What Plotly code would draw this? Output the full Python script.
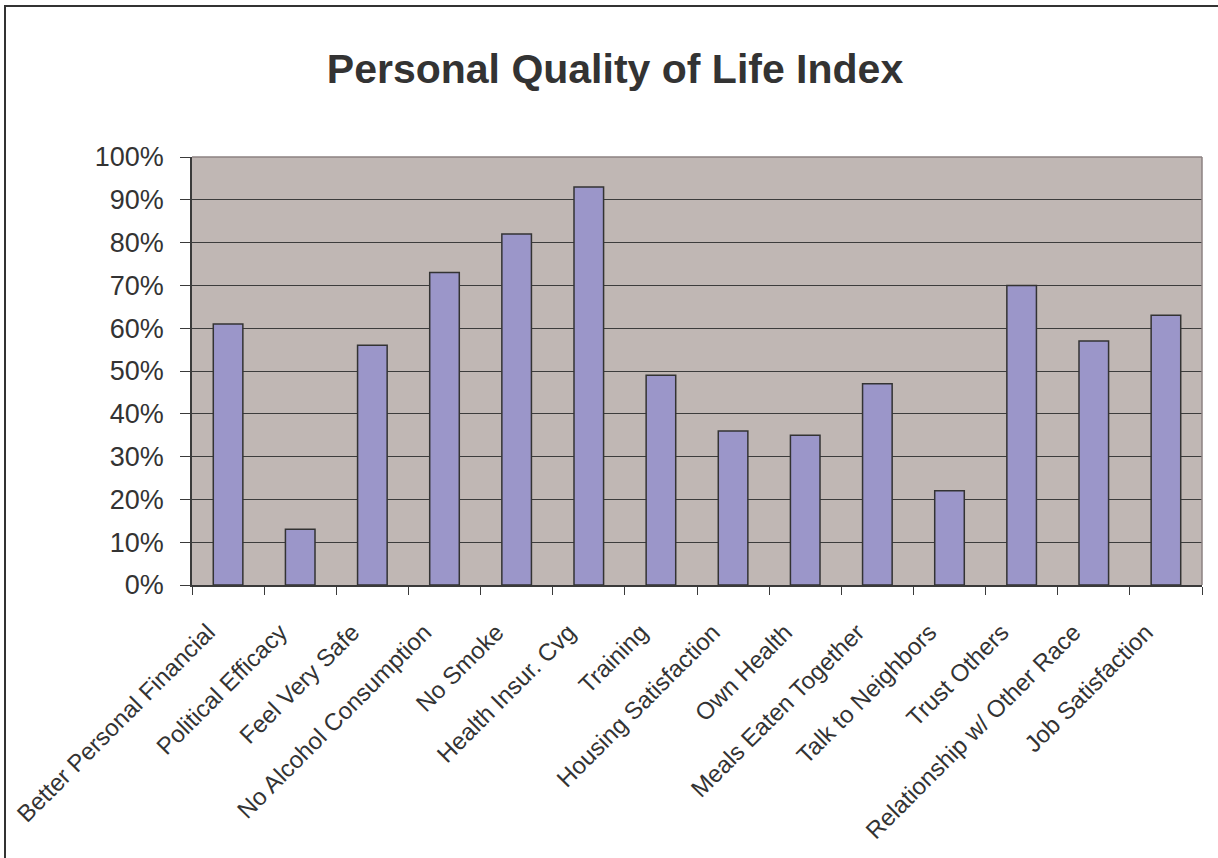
import plotly.graph_objects as go

categories = [
    "Better Personal Financial", "Political Efficacy", "Feel Very Safe",
    "No Alcohol Consumption", "No Smoke", "Health Insur. Cvg", "Training",
    "Housing Satisfaction", "Own Health", "Meals Eaten Together",
    "Talk to Neighbors", "Trust Others", "Relationship w/ Other Race",
    "Job Satisfaction",
]
values = [0.61, 0.13, 0.56, 0.73, 0.82, 0.93, 0.49, 0.36, 0.35, 0.47, 0.22, 0.70, 0.57, 0.63]
y_ticks = [0, 0.1, 0.2, 0.3, 0.4, 0.5, 0.6, 0.7, 0.8, 0.9, 1.0]

W, H = 1218, 858
L, R, T, B = 192, 16, 157, 273
pw, ph = W - L - R, H - T - B

def px_x(px):
    return (px - L) / pw

def px_y(py):
    return (H - B - py) / ph

FONT = "Liberation Sans, Arial, Helvetica, sans-serif"

fig = go.Figure(go.Bar(
    x=categories, y=values,
    marker=dict(color="#9B96C9", line=dict(color="#333333", width=1.5)),
))

fig.update_layout(
    width=W, height=H,
    margin=dict(l=L, r=R, t=T, b=B, autoexpand=False),
    paper_bgcolor="white",
    plot_bgcolor="#C0B7B4",
    bargap=0.59,
    showlegend=False,
    font=dict(family=FONT, color="#222222"),
    title=dict(
        text="<b>Personal Quality of Life Index</b>",
        x=615 / W, xanchor="center", xref="container",
        y=1 - 69 / H, yanchor="middle", yref="container",
        font=dict(size=41, color="#333333", family=FONT),
    ),
    xaxis=dict(
        tickangle=-45, tickfont=dict(size=24, color="#333333"),
        showgrid=False, showline=True, linecolor="#3a3a3a", linewidth=1.5,
        ticks="outside", ticklen=8, tickcolor="#3a3a3a", tickson="boundaries",
        ticklabelshift=-20, ticklabelstandoff=22,
        zeroline=False,
    ),
    yaxis=dict(
        range=[0, 1], tickvals=y_ticks, tickformat=".0%",
        tickfont=dict(size=27, color="#333333"),
        showgrid=True, gridcolor="#3c3c3c", gridwidth=1,
        showline=True, linecolor="#3a3a3a", linewidth=1.5,
        ticks="outside", ticklen=10, tickcolor="#3a3a3a",
        ticklabelstandoff=11, zeroline=False,
    ),
    shapes=[
        dict(type="line", xref="paper", yref="paper", x0=0, x1=1, y0=1, y1=1,
             line=dict(color="#8C8282", width=1.5), layer="above"),
        dict(type="line", xref="paper", yref="paper", x0=1, x1=1, y0=0, y1=1,
             line=dict(color="#8C8282", width=1.5), layer="above"),
        dict(type="rect", xref="paper", yref="paper",
             x0=px_x(5), x1=px_x(1240), y0=px_y(880), y1=px_y(6),
             line=dict(color="#333333", width=2), layer="above"),
    ],
)

fig.write_html("out.html", config={"displayModeBar": False},
               post_script="document.body.style.margin='0';")
